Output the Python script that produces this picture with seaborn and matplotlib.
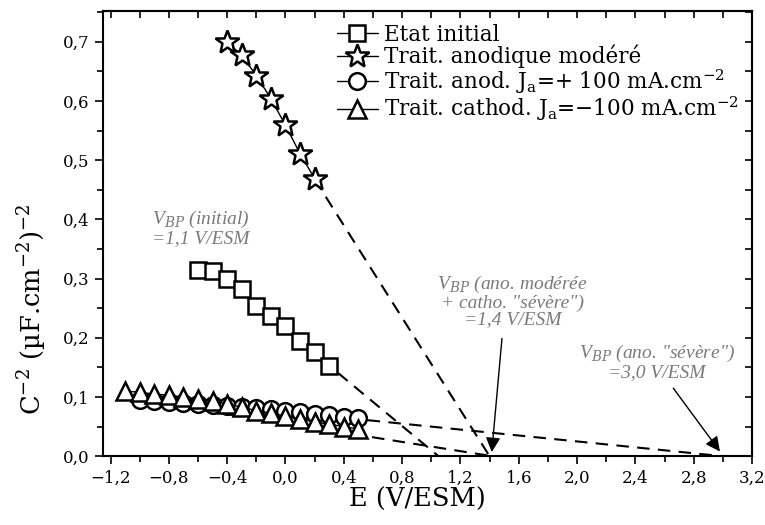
import numpy as np
import pandas as pd
import matplotlib
matplotlib.use("Agg")
import matplotlib.pyplot as plt
from matplotlib.ticker import MultipleLocator, FuncFormatter
import seaborn as sns

# --- data ---
x_init = [-0.6, -0.5, -0.4, -0.3, -0.2, -0.1, 0.0, 0.1, 0.2, 0.3]
y_init = [0.315, 0.313, 0.300, 0.283, 0.254, 0.237, 0.220, 0.195, 0.176, 0.153]

x_mod = [-0.4, -0.3, -0.2, -0.1, 0.0, 0.1, 0.2]
y_mod = [0.700, 0.677, 0.643, 0.604, 0.559, 0.511, 0.469]

x_anod = [-1.0, -0.9, -0.8, -0.7, -0.6, -0.5, -0.4, -0.3, -0.2, -0.1,
          0.0, 0.1, 0.2, 0.3, 0.4, 0.5]
y_anod = [0.095, 0.093, 0.091, 0.090, 0.088, 0.086, 0.085, 0.083, 0.081, 0.079,
          0.077, 0.075, 0.072, 0.070, 0.067, 0.065]

x_cath = [-1.1, -1.0, -0.9, -0.8, -0.7, -0.6, -0.5, -0.4, -0.3, -0.2,
          -0.1, 0.0, 0.1, 0.2, 0.3, 0.4, 0.5]
y_cath = [0.110, 0.108, 0.105, 0.103, 0.100, 0.097, 0.093, 0.088, 0.083, 0.077,
          0.073, 0.068, 0.063, 0.058, 0.054, 0.050, 0.046]

labels = ["Etat initial",
          "Trait. anodique modéré",
          r"Trait. anod. J$_\mathregular{a}$=+ 100 mA.cm$^\mathregular{-2}$",
          r"Trait. cathod. J$_\mathregular{a}$=−100 mA.cm$^\mathregular{-2}$"]
markers = ["s", "*", "o", "^"]
msizes = [12, 18, 12, 13]

# linear extrapolations (dashed): flat-band potential, slope, start of the dashed part
v_bp = [1.05, 1.40, 3.00, 1.42]
fit_slope = [0.204, 0.390, 0.025, 0.039]
fit_start = [-0.3, 0.2, -1.0, -1.1]

sns.set_style("ticks")
plt.rcParams["font.family"] = ["DejaVu Serif"]
plt.rcParams["mathtext.fontset"] = "dejavuserif"
plt.rcParams["axes.unicode_minus"] = True
for key in ["text.color", "axes.labelcolor", "xtick.color", "ytick.color"]:
    plt.rcParams[key] = "black"

fig = plt.figure(figsize=(7.65, 5.25), dpi=100)
ax = fig.add_axes([0.134, 0.131, 0.849, 0.848])

series = [(x_init, y_init), (x_mod, y_mod), (x_anod, y_anod), (x_cath, y_cath)]

# dashed extrapolation lines
for vb, a, xs in zip(v_bp, fit_slope, fit_start):
    xl = np.array([xs, vb])
    yl = a * (vb - xl)
    ax.plot(xl, yl, color="black", lw=1.5, ls=(0, (6, 4)), zorder=1)

handles = []
for (xs, ys), lab, mk, ms in zip(series, labels, markers, msizes):
    df = pd.DataFrame({"E": xs, "C": ys})
    sns.lineplot(data=df, x="E", y="C", ax=ax, color="black", lw=1.0,
                 marker=mk, markersize=ms, markerfacecolor="white",
                 markeredgecolor="black", markeredgewidth=1.8,
                 estimator=None, sort=False, zorder=3)
    handles.append(ax.lines[-1])

leg = ax.legend(handles, labels, loc="upper right", frameon=False,
                fontsize=15.5, handlelength=1.9, handletextpad=0.3,
                labelspacing=-0.05, borderaxespad=0.2, bbox_to_anchor=(1.0, 1.0))

# annotations
grey = "#7a7a7a"
afont = dict(family=["Liberation Serif", "DejaVu Serif"], style="italic",
             size=14, color=grey)
ax.text(-0.58, 0.385, "V$_{BP}$ (initial)\n=1,1 V/ESM",
        ha="center", va="center", linespacing=1.0, **afont)
ax.text(1.56, 0.262,
        "V$_{BP}$ (ano. modérée\n+ catho. \"sévère\")\n=1,4 V/ESM",
        ha="center", va="center", linespacing=0.95, **afont)
ax.text(2.55, 0.159, "V$_{BP}$ (ano. \"sévère\")\n=3,0 V/ESM",
        ha="center", va="center", linespacing=1.05, **afont)
arrow = dict(arrowstyle="-|>", color="black", lw=1.0, mutation_scale=22,
             shrinkA=0, shrinkB=0)
ax.annotate("", xy=(1.415, 0.007), xytext=(1.485, 0.199), arrowprops=arrow)
ax.annotate("", xy=(2.98, 0.008), xytext=(2.66, 0.115), arrowprops=arrow)

ax.set_xlim(-1.255, 3.2)
ax.set_ylim(0, 0.752)
ax.xaxis.set_major_locator(MultipleLocator(0.4))
ax.xaxis.set_minor_locator(MultipleLocator(0.2))
ax.yaxis.set_major_locator(MultipleLocator(0.1))
ax.yaxis.set_minor_locator(MultipleLocator(0.05))
fmt = FuncFormatter(lambda v, p: f"{v:.1f}".replace(".", ",").replace("-", "−")
                    if abs(v) > 1e-9 else "0,0")
ax.xaxis.set_major_formatter(fmt)
ax.yaxis.set_major_formatter(fmt)

ax.tick_params(which="both", direction="out", width=1.2, labelsize=12,
               colors="black")
ax.tick_params(which="major", length=6)
ax.tick_params(which="minor", length=4)
# inward ticks on top/right spines
ax2 = ax.secondary_xaxis("top")
ax2.xaxis.set_major_locator(MultipleLocator(0.4))
ax2.xaxis.set_minor_locator(MultipleLocator(0.2))
ax2.tick_params(which="both", direction="in", length=5, width=1.2, labeltop=False)
ax3 = ax.secondary_yaxis("right")
ax3.yaxis.set_major_locator(MultipleLocator(0.1))
ax3.yaxis.set_minor_locator(MultipleLocator(0.05))
ax3.tick_params(which="both", direction="in", length=5, width=1.2, labelright=False)
for s in ax.spines.values():
    s.set_visible(True)
    s.set_linewidth(1.5)
    s.set_color("black")
ax2.spines["top"].set_linewidth(1.5)
ax3.spines["right"].set_linewidth(1.5)

ax.set_xlabel("E (V/ESM)", fontsize=18.5)
ax.xaxis.set_label_coords(0.485, -0.07)
ax.set_ylabel(r"C$^\mathregular{-2}$ (µF.cm$^\mathregular{-2}$)$^\mathregular{-2}$",
              fontsize=18.5)
ax.yaxis.set_label_coords(-0.082, 0.33)

fig.savefig("out.png", dpi=100)
